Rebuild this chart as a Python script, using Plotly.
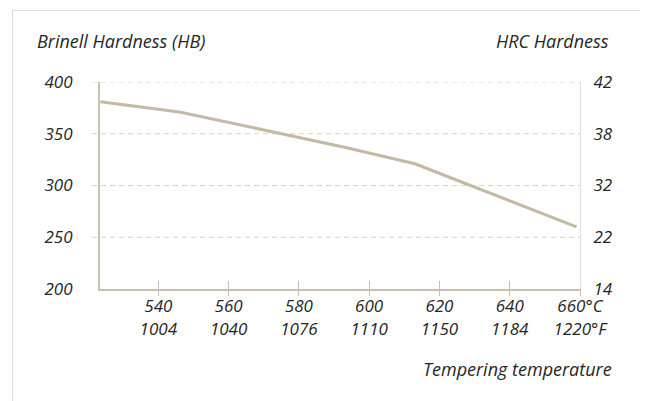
import plotly.graph_objects as go

# ---- data ----
temp_c = [523.5, 546, 593, 613, 659]
brinell_hb = [381, 371, 337, 321, 260]

c_ticks = [540, 560, 580, 600, 620, 640, 660]
f_ticks = [1004, 1040, 1076, 1110, 1150, 1184, 1220]
hb_ticks = [200, 250, 300, 350, 400]
hrc_labels = [14, 22, 32, 38, 42]
grid_values = [250, 300, 350, 400]

x_range = [523.4, 660]
y_range = [200, 400]

TXT = "#262626"
LINE = "#c3b9a4"
AXIS = "#c9c0ae"
GRID = "#d8d1c4"
FONT = "Open Sans"

# the page body adds an 8px offset; compensate so the plot lands where the reference has it
OFF = 8
PL, PT, PW, PH = 100, 82, 480, 207.3  # plot area in page pixels

x_text = []
for i, (c, f) in enumerate(zip(c_ticks, f_ticks)):
    if i == len(c_ticks) - 1:
        x_text.append(f"{c}°C<br>{f}°F")
    else:
        x_text.append(f"{c}<br>{f}")


def px(x):
    return (x - PL) / PW


def py(y):
    return (PT + PH - y) / PH


fig = go.Figure()
fig.add_trace(go.Scatter(x=temp_c, y=brinell_hb, mode="lines",
                         line=dict(color=LINE, width=3), hoverinfo="skip",
                         showlegend=False))
# invisible helper traces so the overlay axes are drawn
fig.add_trace(go.Scatter(x=temp_c, y=brinell_hb, mode="lines", opacity=0,
                         xaxis="x2", yaxis="y", showlegend=False, hoverinfo="skip"))
fig.add_trace(go.Scatter(x=temp_c, y=brinell_hb, mode="lines", opacity=0,
                         xaxis="x", yaxis="y2", showlegend=False, hoverinfo="skip"))

tickfont = dict(family=FONT, size=17, color=TXT, style="italic")

W, H = 648 - OFF, 401 - OFF
fig.update_layout(
    width=W, height=H,
    margin=dict(l=PL - OFF, r=W - (PL - OFF) - PW, t=PT - OFF,
                b=H - (PT - OFF) - PH, autoexpand=False),
    paper_bgcolor="white", plot_bgcolor="white",
    showlegend=False,
    xaxis=dict(range=x_range, tickvals=c_ticks, ticktext=x_text,
               showgrid=False, zeroline=False, automargin=False,
               showline=True, linecolor=AXIS, linewidth=2,
               ticks="outside", ticklen=5, tickwidth=1, tickcolor=AXIS,
               tickfont=tickfont, ticklabelstandoff=-4),
    xaxis2=dict(range=x_range, overlaying="x", anchor="y", side="bottom",
                tickvals=c_ticks, showticklabels=False, showgrid=False,
                zeroline=False, showline=False, automargin=False,
                ticks="inside", ticklen=8, tickwidth=1, tickcolor=AXIS),
    yaxis=dict(range=y_range, tickvals=hb_ticks, showgrid=False, zeroline=False,
               showline=True, linecolor=AXIS, linewidth=2, ticks="",
               automargin=False, tickfont=tickfont, ticklabelstandoff=22),
    yaxis2=dict(range=y_range, overlaying="y", side="right", anchor="x",
                tickvals=hb_ticks, ticktext=[str(v) for v in hrc_labels],
                showgrid=False, zeroline=False, automargin=False,
                showline=True, linecolor="#e4e0d6", linewidth=1, ticks="",
                tickfont=tickfont, ticklabelstandoff=9),
)

shapes = []
for v in grid_values:
    shapes.append(dict(type="line", xref="x domain", yref="y",
                       x0=-8 / PW, x1=1, y0=v, y1=v, layer="below",
                       line=dict(color=GRID, width=1, dash="5px,4px")))
# outer frame (top and left borders)
shapes.append(dict(type="rect", xref="paper", yref="paper",
                   x0=px(12.5), x1=1.3, y0=-0.6, y1=py(10.5),
                   line=dict(color="#ddd8cc", width=1), layer="below"))
fig.update_layout(shapes=shapes)

titlefont = dict(family=FONT, size=18, color=TXT, style="italic")
fig.add_annotation(text="Brinell Hardness (HB)", xref="paper", yref="paper",
                   x=px(35), y=py(41),
                   xanchor="left", yanchor="middle", showarrow=False, font=titlefont)
fig.add_annotation(text="HRC Hardness", xref="paper", yref="paper",
                   x=px(611), y=py(41),
                   xanchor="right", yanchor="middle", showarrow=False, font=titlefont)
fig.add_annotation(text="Tempering temperature", xref="paper", yref="paper",
                   x=px(614), y=py(369),
                   xanchor="right", yanchor="middle", showarrow=False, font=titlefont)

fig.write_html("out.html")
